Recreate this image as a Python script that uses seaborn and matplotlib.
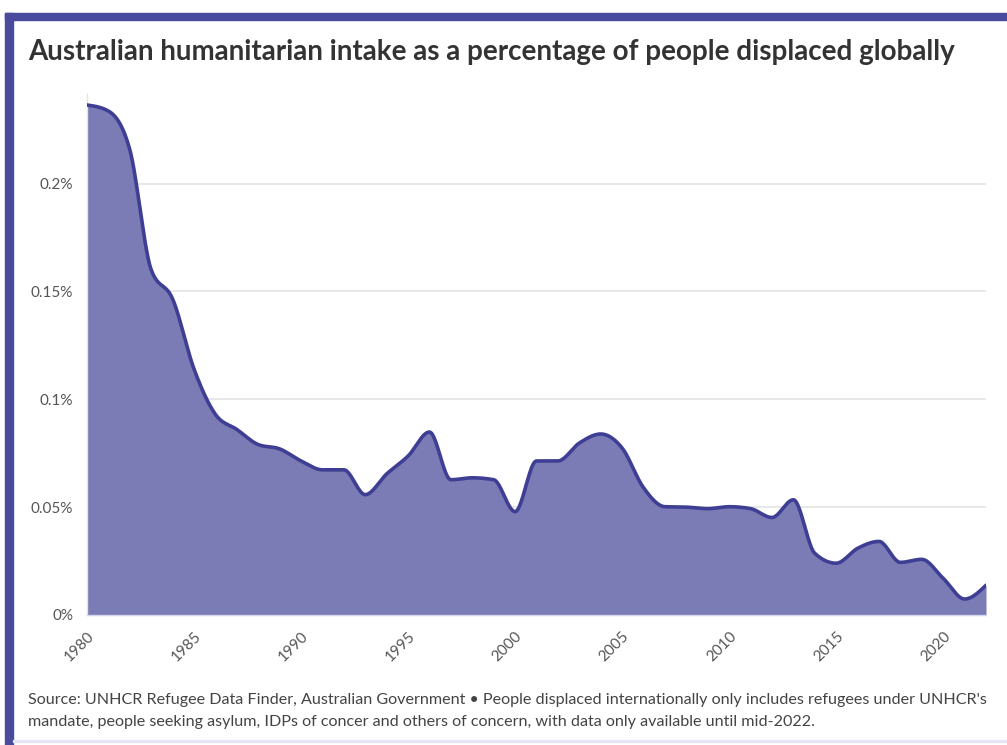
import numpy as np
import matplotlib
matplotlib.use('Agg')
import matplotlib.pyplot as plt
import matplotlib.patches as patches
import pandas as pd
import seaborn as sns

# values (percent of people displaced globally)
years = list(range(1980, 2023))
intake_pct = [0.2364, 0.2336, 0.2157, 0.1600, 0.1465, 0.1140, 0.0930, 0.0860,
              0.0790, 0.0770, 0.0714, 0.0673, 0.0673, 0.0558, 0.0654, 0.0737,
              0.0848, 0.0627, 0.0636, 0.0627, 0.0479, 0.0714, 0.0714, 0.0797,
              0.0839, 0.0774, 0.0590, 0.0502, 0.0500, 0.0493, 0.0502, 0.0493,
              0.0452, 0.0534, 0.0286, 0.0240, 0.0309, 0.0341, 0.0244, 0.0258,
              0.0170, 0.0074, 0.0138]
y_ticks = [0, 0.05, 0.1, 0.15, 0.2]
y_tick_labels = ['0%', '0.05%', '0.1%', '0.15%', '0.2%']
x_ticks = list(range(1980, 2021, 5))

title = 'Australian humanitarian intake as a percentage of people displaced globally'
note_lines = ["Source: UNHCR Refugee Data Finder, Australian Government \u2022 People displaced internationally only includes refugees under UNHCR's",
              "mandate, people seeking asylum, IDPs of concer and others of concern, with data only available until mid-2022."]

LINE = '#3e3f94'
FILL = '#7b7bb6'
FRAME = '#4a4b9c'


def monotone_curve(x, y, steps=24):
    # monotone cubic (like d3 curveMonotoneX), only to draw the line smooth
    x = np.asarray(x, float)
    y = np.asarray(y, float)
    h = np.diff(x)
    s = np.diff(y) / h
    m = np.zeros_like(y)
    for i in range(1, len(y) - 1):
        p = (s[i - 1] * h[i] + s[i] * h[i - 1]) / (h[i - 1] + h[i])
        m[i] = (np.sign(s[i - 1]) + np.sign(s[i])) * min(abs(s[i - 1]), abs(s[i]), 0.5 * abs(p))
    m[0] = (3 * s[0] - m[1]) / 2
    m[-1] = (3 * s[-1] - m[-2]) / 2
    xs, ys = [], []
    for i in range(len(h)):
        t = np.linspace(0, 1, steps, endpoint=False)
        h00 = 2 * t**3 - 3 * t**2 + 1
        h10 = t**3 - 2 * t**2 + t
        h01 = -2 * t**3 + 3 * t**2
        h11 = t**3 - t**2
        xs.extend(x[i] + t * h[i])
        ys.extend(h00 * y[i] + h10 * h[i] * m[i] + h01 * y[i + 1] + h11 * h[i] * m[i + 1])
    xs.append(x[-1])
    ys.append(y[-1])
    return np.array(xs), np.array(ys)


sx, sy = monotone_curve(years, intake_pct)
df = pd.DataFrame({'Year': sx, 'Pct': sy})

sns.set_theme(style='white')
plt.rcParams['font.family'] = ['Lato', 'DejaVu Sans']

W, H = 1007, 745
fig = plt.figure(figsize=(W / 100, H / 100), dpi=100)

# purple frame (left and top) and faint bottom rule
fig.patches.append(patches.Rectangle((5 / W, 0), 8 / W, 1 - 13 / H, transform=fig.transFigure,
                                     color=FRAME, zorder=0))
fig.patches.append(patches.Rectangle((5 / W, 1 - 20 / H), 1, 7 / H, transform=fig.transFigure,
                                     color=FRAME, zorder=0))
fig.patches.append(patches.Rectangle((13 / W, 1 - 742 / H), 1, 2 / H, transform=fig.transFigure,
                                     color='#e6e6f3', zorder=0))

ax = fig.add_axes([87 / W, 1 - 615 / H, (986 - 87) / W, (615 - 94) / H])
ax.fill_between(df['Year'], 0, df['Pct'], color=FILL, linewidth=0, zorder=2)
sns.lineplot(data=df, x='Year', y='Pct', ax=ax, color=LINE, linewidth=2.6, zorder=3)

ax.set_xlim(1980, 2022)
ax.set_ylim(0, 0.2415)
ax.set_yticks(y_ticks)
ax.set_yticklabels(y_tick_labels)
ax.set_xticks(x_ticks)
ax.set_xticklabels([str(v) for v in x_ticks], rotation=45, ha='right', rotation_mode='anchor')
ax.set_xlabel('')
ax.set_ylabel('')

ax.grid(axis='y', color='#e6e6e6', linewidth=1.3, zorder=1)
ax.grid(axis='x', visible=False)
ax.set_axisbelow(True)
for side in ['top', 'right']:
    ax.spines[side].set_visible(False)
ax.spines['left'].set_color('#e3e3e3')
ax.spines['left'].set_linewidth(1)
ax.spines['bottom'].set_color('#d4d4ea')
ax.spines['bottom'].set_linewidth(1)
ax.tick_params(axis='y', length=7, width=1, color='#e3e3e3', labelsize=11, labelcolor='#555555', pad=3)
ax.tick_params(axis='x', length=6, width=1, color='#e3e3e3', labelsize=11, labelcolor='#555555', pad=4)

fig.text(28 / W, 1 - 52 / H, title, fontsize=20, fontweight='bold', color='#333333',
         ha='left', va='center')
for i, line in enumerate(note_lines):
    fig.text(28 / W, 1 - (700 + 22 * i) / H, line, fontsize=11.6, color='#444444',
             ha='left', va='center')

fig.savefig('out.png', dpi=100)
